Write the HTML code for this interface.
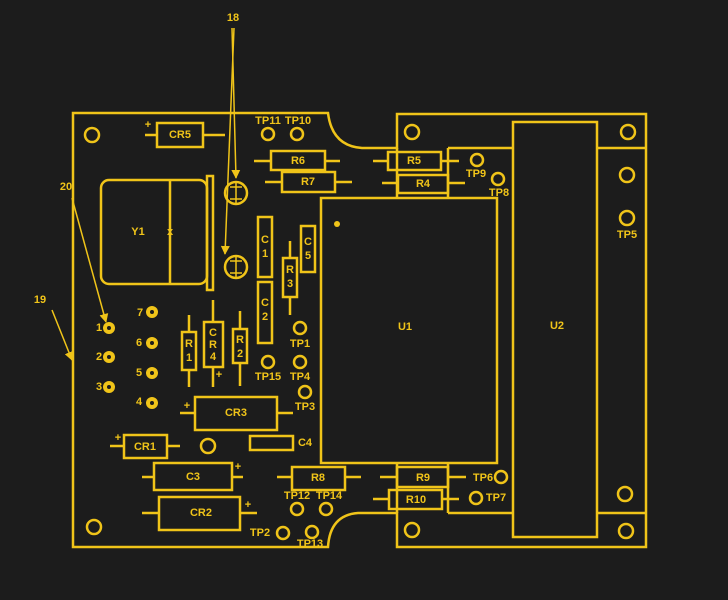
<!DOCTYPE html>
<html><head><style>
html,body{margin:0;padding:0;background:#1c1c1c;}
svg{display:block;}
text{font-family:"Liberation Sans",sans-serif;fill:#f0c419;font-size:11px;font-weight:bold;text-anchor:middle;dominant-baseline:middle;}
</style></head><body>
<svg width="728" height="600" viewBox="0 0 728 600" xmlns="http://www.w3.org/2000/svg">
<defs><marker id="a" viewBox="0 0 10 10" refX="9" refY="5" markerWidth="6" markerHeight="6" orient="auto"><path d="M0,0L10,5L0,10z" fill="#f0c419"/></marker></defs>
<g stroke="#f0c419" stroke-width="2.5" fill="none">
<path d="M73,113 H328 Q332,146 362,148 H397 V114 H646 V547 H397 V513 H358 Q330,515 328,547 H73 Z"/>
<path d="M397,148 V198 M448,148 V198 M448,148 H513 M597,148 H646 M597,513 H646 M448,513 H513 M397,463 V513 M448,463 V513"/>
<rect x="513" y="122" width="84" height="415"/>
<rect x="321" y="198" width="176" height="265"/>
<circle cx="412" cy="132" r="7"/><circle cx="628" cy="132" r="7"/><circle cx="627" cy="175" r="7"/><circle cx="627" cy="218" r="7"/>
<circle cx="625" cy="494" r="7"/><circle cx="626" cy="531" r="7"/><circle cx="412" cy="530" r="7"/><circle cx="92" cy="135" r="7"/><circle cx="94" cy="527" r="7"/>
<rect x="157" y="123" width="46" height="24"/><path d="M145,135H157M203,135H225"/>
<circle cx="268" cy="134" r="6"/><circle cx="297" cy="134" r="6"/>
<circle cx="300" cy="328" r="6"/><circle cx="268" cy="362" r="6"/><circle cx="300" cy="362" r="6"/><circle cx="305" cy="392" r="6"/>
<circle cx="297" cy="509" r="6"/><circle cx="326" cy="509" r="6"/><circle cx="283" cy="533" r="6"/><circle cx="312" cy="532" r="6"/>
<circle cx="501" cy="477" r="6"/><circle cx="476" cy="498" r="6"/><circle cx="477" cy="160" r="6"/><circle cx="498" cy="179" r="6"/>
<circle cx="208" cy="446" r="7"/>
<rect x="271" y="151" width="54" height="19"/><path d="M254,161H271M325,161H340"/>
<rect x="282" y="172" width="53" height="20"/><path d="M265,182H282M335,182H352"/>
<rect x="388" y="152" width="53" height="18"/><path d="M373,161H388M441,161H459"/>
<rect x="398" y="175" width="50" height="18"/><path d="M382,183H398M448,183H465"/>
<rect x="101" y="180" width="106" height="104" rx="8"/><path d="M170,180V284"/>
<rect x="207" y="176" width="6" height="114"/>
<circle cx="236" cy="193" r="11"/><circle cx="236" cy="267" r="11"/>
<path d="M230,187h12M230,199h12M236,182v22M230,261h12M230,273h12M236,256v22" stroke-width="1.5"/>
<rect x="258" y="217" width="14" height="60"/><rect x="258" y="282" width="14" height="61"/>
<rect x="283" y="258" width="14" height="39"/><path d="M290,241V258M290,297V315"/>
<rect x="301" y="226" width="14" height="46"/>
<rect x="182" y="332" width="14" height="38"/><path d="M189,315V332M189,370V387"/>
<rect x="204" y="322" width="19" height="45"/><path d="M213,300V322M213,367V387"/>
<rect x="233" y="329" width="14" height="34"/><path d="M240,311V329M240,363V386"/>
<rect x="195" y="397" width="82" height="33"/><path d="M180,413H195M277,413H293"/>
<rect x="250" y="436" width="43" height="14"/>
<rect x="124" y="435" width="43" height="23"/><path d="M110,446H124M167,446H180"/>
<rect x="154" y="463" width="78" height="27"/><path d="M142,477H154M232,477H243"/>
<rect x="159" y="497" width="81" height="33"/><path d="M142,513H159M240,513H257"/>
<rect x="292" y="467" width="53" height="23"/><path d="M277,477H292M345,477H361"/>
<rect x="397" y="467" width="51" height="20"/><path d="M380,477H397M448,477H466"/>
<rect x="389" y="490" width="53" height="19"/><path d="M373,499H389M442,499H459"/>
<path d="M232,28L236,178" stroke-width="1.5" marker-end="url(#a)"/>
<path d="M234,28L225,254" stroke-width="1.5" marker-end="url(#a)"/>
<path d="M72,198L106,322" stroke-width="1.5" marker-end="url(#a)"/>
<path d="M52,310L72,360" stroke-width="1.5" marker-end="url(#a)"/>
</g>
<g fill="#f0c419">
<circle cx="109" cy="328" r="6"/><circle cx="109" cy="357" r="6"/><circle cx="109" cy="387" r="6"/>
<circle cx="152" cy="312" r="6"/><circle cx="152" cy="343" r="6"/><circle cx="152" cy="373" r="6"/><circle cx="152" cy="403" r="6"/>
<circle cx="337" cy="224" r="3"/>
</g>
<g fill="#1c1c1c">
<circle cx="109" cy="328" r="2"/><circle cx="109" cy="357" r="2"/><circle cx="109" cy="387" r="2"/>
<circle cx="152" cy="312" r="2"/><circle cx="152" cy="343" r="2"/><circle cx="152" cy="373" r="2"/><circle cx="152" cy="403" r="2"/>
</g>
<text x="233" y="18">18</text><text x="66" y="187">20</text><text x="40" y="300">19</text>
<text x="148" y="125" font-size="14">+</text>
<text x="180" y="135">CR5</text>
<text x="268" y="121">TP11</text><text x="298" y="121">TP10</text>
<text x="298" y="161">R6</text><text x="308" y="182">R7</text>
<text x="414" y="161">R5</text><text x="423" y="184">R4</text>
<text x="476" y="174">TP9</text><text x="499" y="193">TP8</text><text x="627" y="235">TP5</text>
<text x="138" y="232">Y1</text><text x="170" y="232">x</text>
<text x="265" y="240">C</text><text x="265" y="254">1</text>
<text x="265" y="303">C</text><text x="265" y="317">2</text>
<text x="290" y="270">R</text><text x="290" y="284">3</text>
<text x="308" y="242">C</text><text x="308" y="256">5</text>
<text x="189" y="344">R</text><text x="189" y="358">1</text>
<text x="213" y="333">C</text><text x="213" y="345">R</text><text x="213" y="357">4</text>
<text x="240" y="340">R</text><text x="240" y="354">2</text>
<text x="219" y="375">+</text>
<text x="300" y="344">TP1</text><text x="268" y="377">TP15</text><text x="300" y="377">TP4</text><text x="305" y="407">TP3</text>
<text x="99" y="328">1</text><text x="99" y="357">2</text><text x="99" y="387">3</text>
<text x="140" y="313">7</text><text x="139" y="343">6</text><text x="139" y="373">5</text><text x="139" y="402">4</text>
<text x="405" y="327" font-size="18" font-weight="normal">U1</text><text x="557" y="326">U2</text>
<text x="187" y="406">+</text><text x="236" y="413">CR3</text>
<text x="305" y="443">C4</text>
<text x="118" y="438">+</text><text x="145" y="447">CR1</text>
<text x="193" y="477">C3</text><text x="238" y="467">+</text>
<text x="201" y="513">CR2</text><text x="248" y="505">+</text>
<text x="318" y="478">R8</text><text x="423" y="478">R9</text><text x="416" y="500">R10</text>
<text x="297" y="496">TP12</text><text x="329" y="496">TP14</text>
<text x="260" y="533">TP2</text><text x="310" y="544">TP13</text>
<text x="483" y="478">TP6</text><text x="496" y="498">TP7</text>
</svg>
</body></html>
